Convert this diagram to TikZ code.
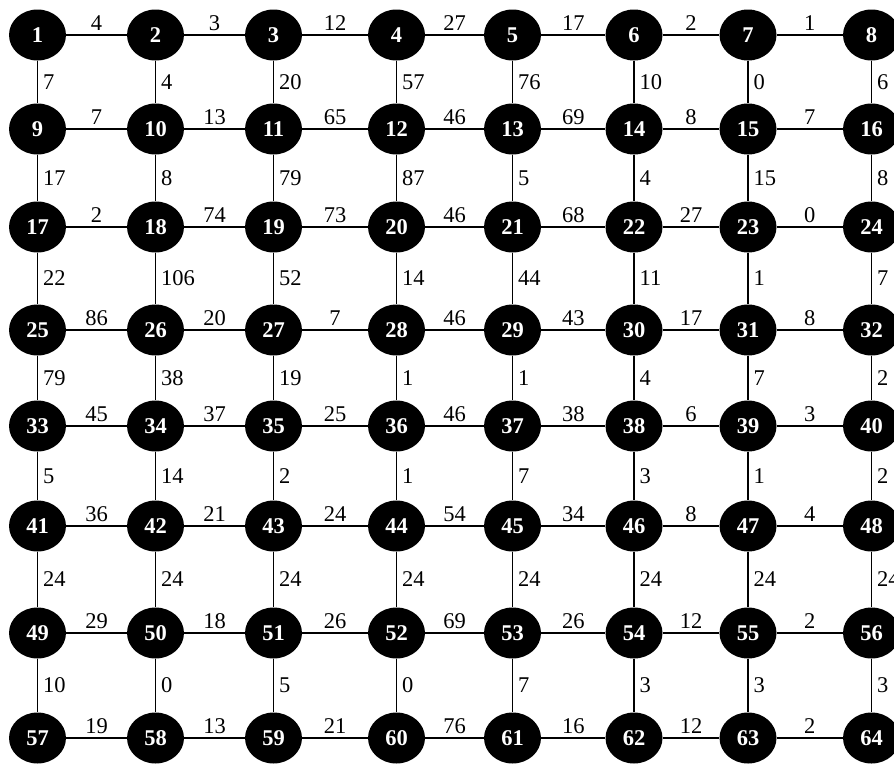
\documentclass[tikz,border=0pt]{standalone}
\usepackage{fontspec}
\setmainfont{Liberation Serif}
\usetikzlibrary{shapes.geometric}
\begin{document}
\begin{tikzpicture}[x=1pt,y=-1pt,
  vtx/.style={ellipse, fill=black, minimum width=57pt, minimum height=51pt, inner sep=0pt, text=white, font=\fontsize{22.5}{22.5}\selectfont\bfseries},
  edgeline/.style={line width=1.3pt},
  hw/.style={midway, above=3pt, inner sep=1pt, font=\fontsize{22.5}{22.5}\selectfont},
  vw/.style={midway, right=4pt, inner sep=1pt, font=\fontsize{22.5}{22.5}\selectfont}]
\useasboundingbox (0,0) rectangle (894,763);
\foreach \x [count=\c] in {37.5,155.5,273.5,396.5,512.5,634,748,871.5}{
  \foreach \y [count=\r] in {35,129,227,330,426,526,633,738}{
    \pgfmathtruncatemacro\k{(\r-1)*8+\c}
    \node[vtx] (n\k) at (\x,\y) {\k};
  }
}
% horizontal edges
\foreach \a/\b/\w in {1/2/4,2/3/3,3/4/12,4/5/27,5/6/17,6/7/2,7/8/1,
  9/10/7,10/11/13,11/12/65,12/13/46,13/14/69,14/15/8,15/16/7,
  17/18/2,18/19/74,19/20/73,20/21/46,21/22/68,22/23/27,23/24/0,
  25/26/86,26/27/20,27/28/7,28/29/46,29/30/43,30/31/17,31/32/8,
  33/34/45,34/35/37,35/36/25,36/37/46,37/38/38,38/39/6,39/40/3,
  41/42/36,42/43/21,43/44/24,44/45/54,45/46/34,46/47/8,47/48/4,
  49/50/29,50/51/18,51/52/26,52/53/69,53/54/26,54/55/12,55/56/2,
  57/58/19,58/59/13,59/60/21,60/61/76,61/62/16,62/63/12,63/64/2}{
  \draw[edgeline] (n\a) -- (n\b) node[hw] {\w};
}
% vertical edges
\foreach \a/\b/\w in {1/9/7,2/10/4,3/11/20,4/12/57,5/13/76,6/14/10,7/15/0,8/16/6,
  9/17/17,10/18/8,11/19/79,12/20/87,13/21/5,14/22/4,15/23/15,16/24/8,
  17/25/22,18/26/106,19/27/52,20/28/14,21/29/44,22/30/11,23/31/1,24/32/7,
  25/33/79,26/34/38,27/35/19,28/36/1,29/37/1,30/38/4,31/39/7,32/40/2,
  33/41/5,34/42/14,35/43/2,36/44/1,37/45/7,38/46/3,39/47/1,40/48/2,
  41/49/24,42/50/24,43/51/24,44/52/24,45/53/24,46/54/24,47/55/24,48/56/24,
  49/57/10,50/58/0,51/59/5,52/60/0,53/61/7,54/62/3,55/63/3,56/64/3}{
  \draw[edgeline] (n\a) -- (n\b) node[vw] {\w};
}
\end{tikzpicture}
\end{document}
